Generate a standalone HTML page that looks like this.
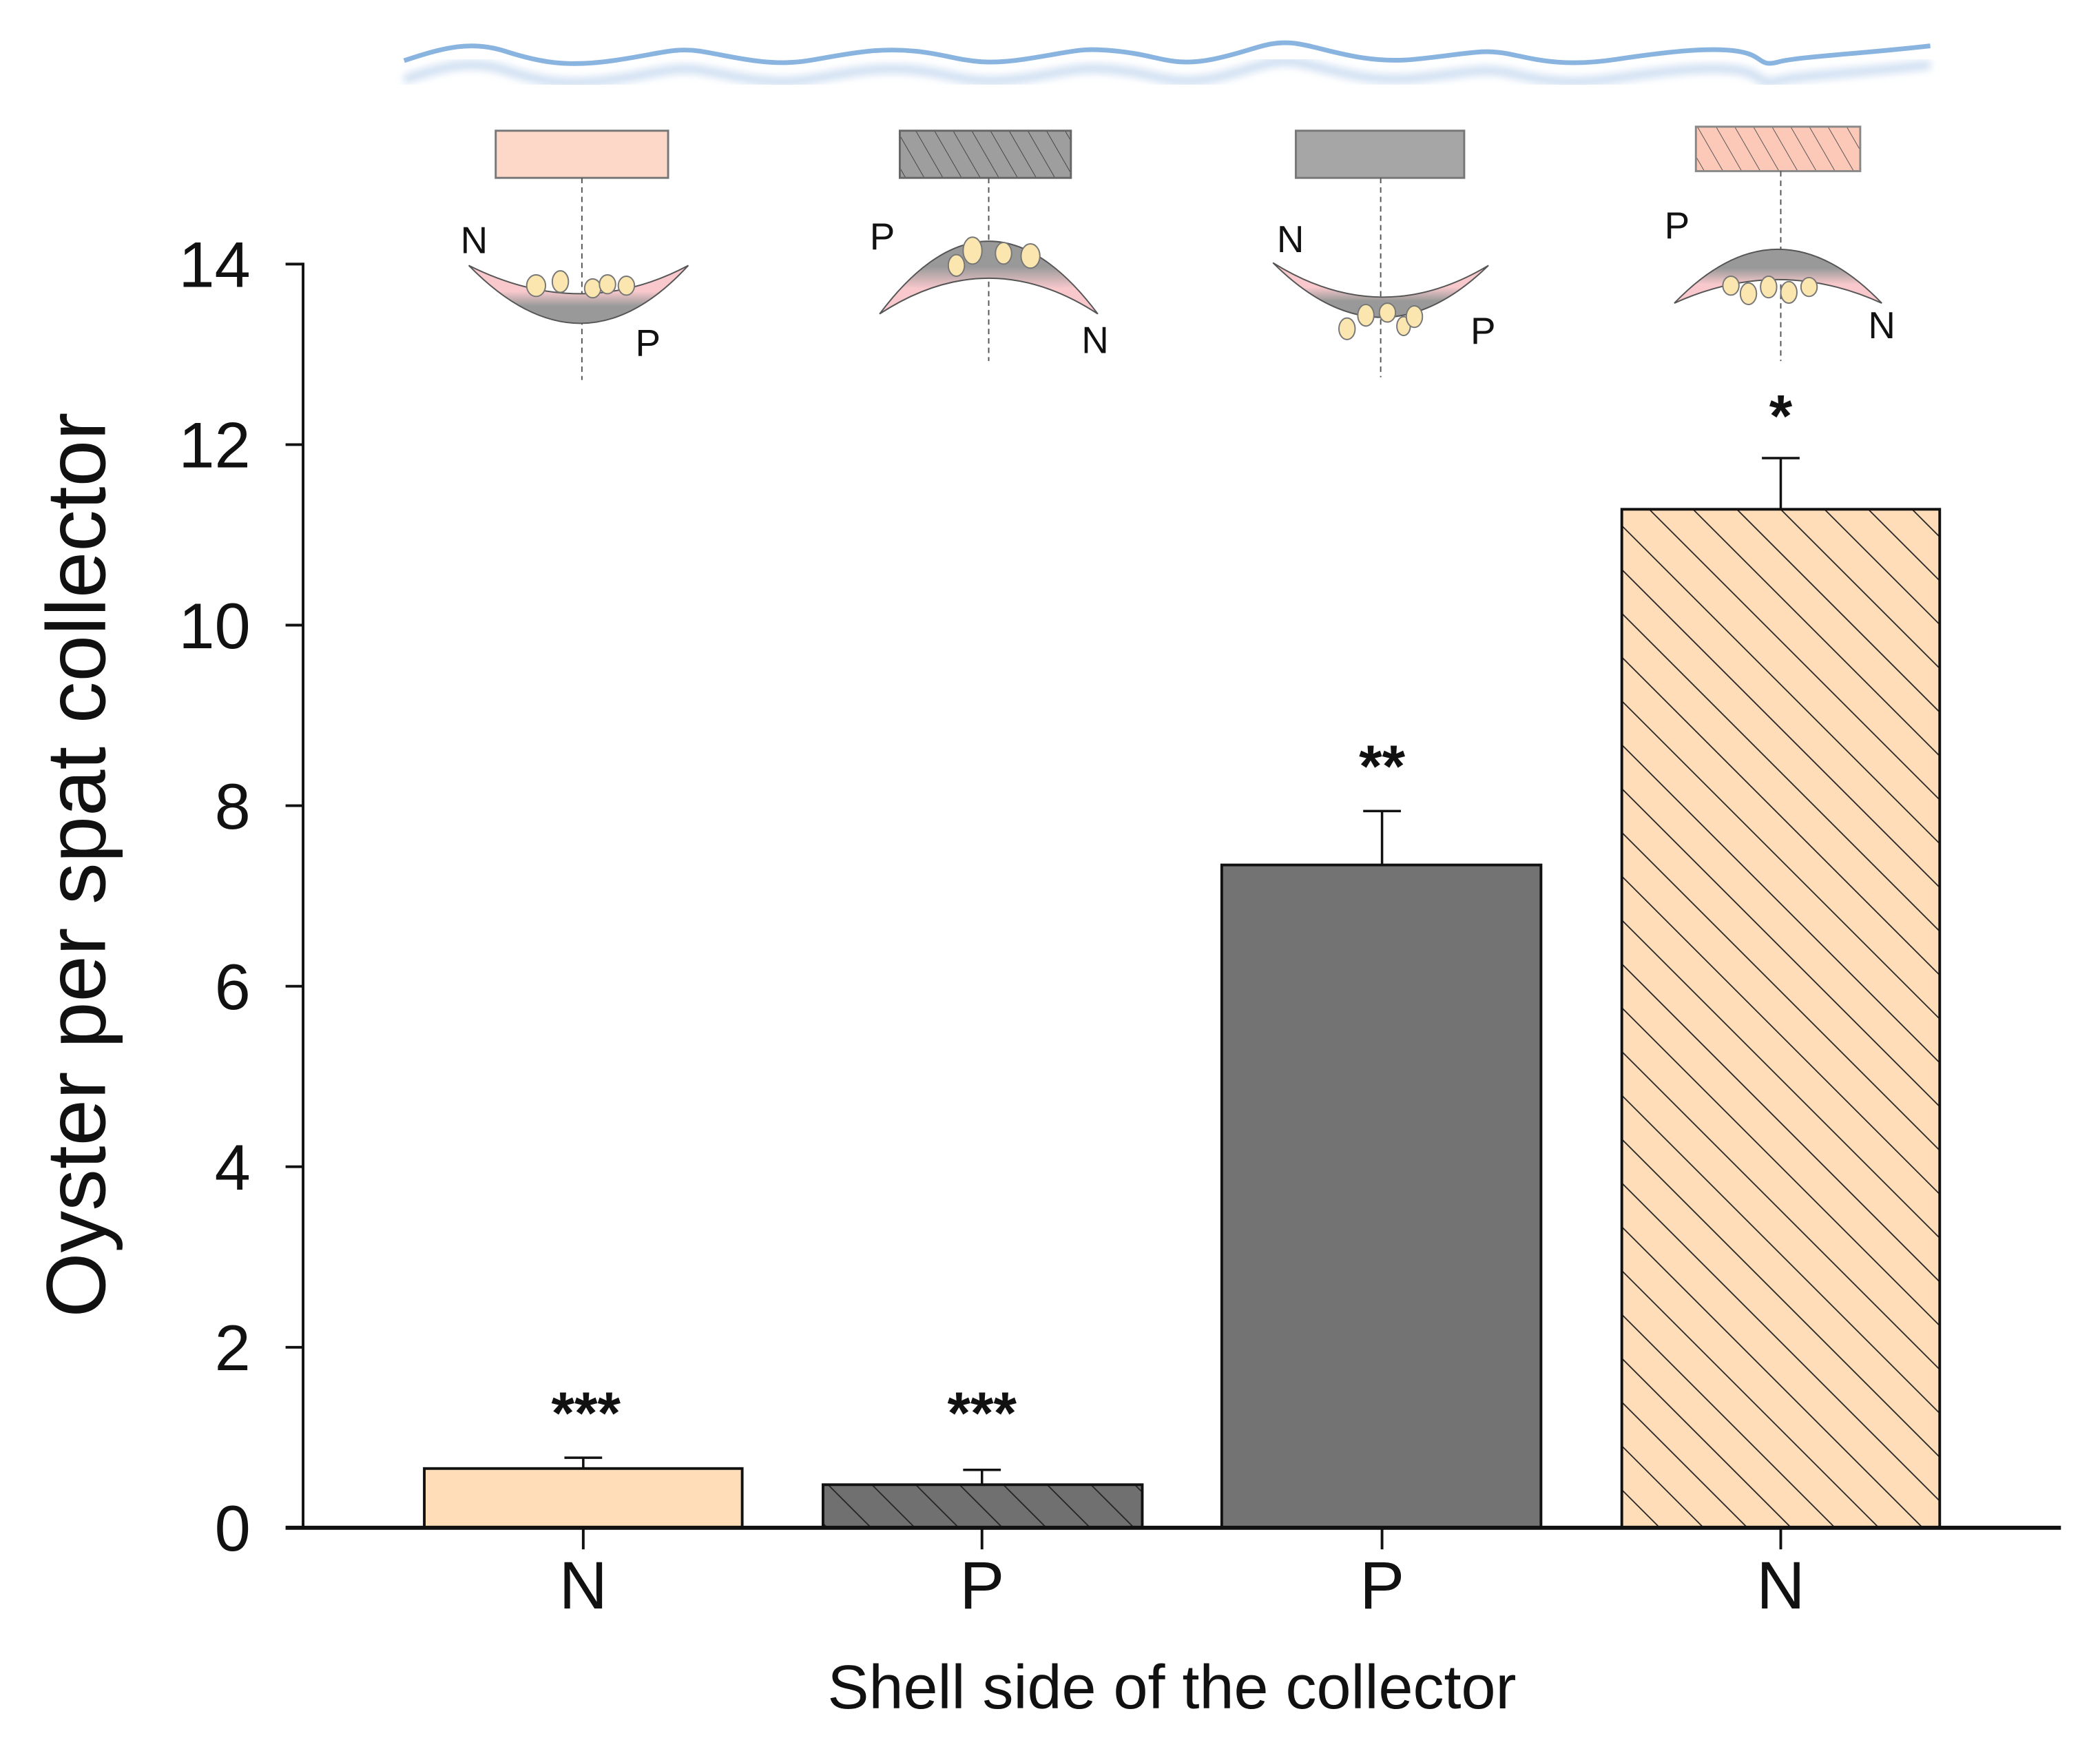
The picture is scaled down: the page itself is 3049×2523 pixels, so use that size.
<!DOCTYPE html>
<html><head><meta charset="utf-8"><style>html,body{margin:0;padding:0;background:#fff}svg{display:block}</style></head>
<body>
<svg xmlns="http://www.w3.org/2000/svg" width="3049" height="2523" viewBox="0 0 1559 1290" font-family="Liberation Sans, Arial, sans-serif">
<defs>
<pattern id="h1" patternUnits="userSpaceOnUse" width="23" height="23" patternTransform="rotate(-45)">
<rect width="23" height="23" fill="#FFDDB8"/><line x1="0" y1="0" x2="0" y2="23" stroke="#222" stroke-width="1.8"/></pattern>
<pattern id="h2" patternUnits="userSpaceOnUse" width="23" height="23" patternTransform="rotate(-45)">
<rect width="23" height="23" fill="#707070"/><line x1="0" y1="0" x2="0" y2="23" stroke="#222" stroke-width="1.8"/></pattern>
<pattern id="h3" patternUnits="userSpaceOnUse" width="12" height="12" patternTransform="rotate(-30)">
<rect width="12" height="12" fill="#9E9E9E"/><line x1="0" y1="0" x2="0" y2="12" stroke="#444" stroke-width="1"/></pattern>
<pattern id="h4" patternUnits="userSpaceOnUse" width="12" height="12" patternTransform="rotate(-30)">
<rect width="12" height="12" fill="#FCC8B8"/><line x1="0" y1="0" x2="0" y2="12" stroke="#555" stroke-width="1"/></pattern>
<linearGradient id="gUp" x1="0" y1="0" x2="0" y2="1"><stop offset="0.45" stop-color="#F8C8CC"/><stop offset="0.7" stop-color="#999"/></linearGradient>
<linearGradient id="gDn" x1="0" y1="0" x2="0" y2="1"><stop offset="0.35" stop-color="#999"/><stop offset="0.65" stop-color="#F8C8CC"/></linearGradient>
<filter id="bl"><feGaussianBlur stdDeviation="3"/></filter>
</defs>
<path id="w" d="M300,45 C330,35 350,30 375,38 S420,50 455,45 S500,35 520,38 S570,50 600,45 S650,35 680,38 S720,50 760,44 S800,35 830,38 S870,50 900,44 S940,30 960,32 S1010,48 1050,44 S1100,36 1120,40 S1160,50 1200,44 S1270,35 1290,38 S1305,50 1320,46 S1380,40 1433,34" fill="none" stroke="#C8DAF0" stroke-width="6" filter="url(#bl)" transform="translate(0,14)"/>
<path d="M300,45 C330,35 350,30 375,38 S420,50 455,45 S500,35 520,38 S570,50 600,45 S650,35 680,38 S720,50 760,44 S800,35 830,38 S870,50 900,44 S940,30 960,32 S1010,48 1050,44 S1100,36 1120,40 S1160,50 1200,44 S1270,35 1290,38 S1305,50 1320,46 S1380,40 1433,34" fill="none" stroke="#8AB4E0" stroke-width="3.5"/>
<rect x="368" y="97" width="128" height="35" fill="#FDD8C8" stroke="#777" stroke-width="1.5"/>
<rect x="668" y="97" width="127" height="35" fill="url(#h3)" stroke="#666" stroke-width="1.5"/>
<rect x="962" y="97" width="125" height="35" fill="#A6A6A6" stroke="#777" stroke-width="1.5"/>
<rect x="1259" y="94" width="122" height="33" fill="url(#h4)" stroke="#888" stroke-width="1.5"/>
<g stroke="#555" stroke-width="1" stroke-dasharray="4,3">
<line x1="432" y1="132" x2="432" y2="282"/><line x1="734" y1="132" x2="734" y2="268"/>
<line x1="1025" y1="132" x2="1025" y2="280"/><line x1="1322" y1="127" x2="1322" y2="268"/>
</g>
<path d="M348,197 Q432,283 511,197 Q432,239 348,197 Z" fill="url(#gUp)" stroke="#555" stroke-width="1"/>
<path d="M653,233 Q734,125 815,233 Q734,180 653,233 Z" fill="url(#gDn)" stroke="#555" stroke-width="1"/>
<path d="M945,195 Q1025,275 1105,197 Q1025,245 945,195 Z" fill="url(#gUp)" stroke="#555" stroke-width="1"/>
<path d="M1243,225 Q1320,145 1397,225 Q1320,190 1243,225 Z" fill="url(#gDn)" stroke="#555" stroke-width="1"/>
<g fill="#FBE6B0" stroke="#777" stroke-width="1">
<ellipse cx="398" cy="212" rx="7" ry="8"/><ellipse cx="416" cy="209" rx="6" ry="8"/><ellipse cx="440" cy="214" rx="6" ry="7"/><ellipse cx="451" cy="211" rx="6" ry="7"/><ellipse cx="465" cy="212" rx="6" ry="7"/>
<ellipse cx="710" cy="197" rx="6" ry="8"/><ellipse cx="722" cy="186" rx="7" ry="10"/><ellipse cx="745" cy="188" rx="6" ry="8"/><ellipse cx="765" cy="190" rx="7" ry="9"/>
<ellipse cx="1000" cy="244" rx="6" ry="8"/><ellipse cx="1014" cy="234" rx="6" ry="8"/><ellipse cx="1030" cy="232" rx="6" ry="7"/><ellipse cx="1042" cy="242" rx="5" ry="7"/><ellipse cx="1050" cy="235" rx="6" ry="8"/>
<ellipse cx="1285" cy="212" rx="6" ry="7"/><ellipse cx="1298" cy="218" rx="6" ry="8"/><ellipse cx="1313" cy="213" rx="6" ry="8"/><ellipse cx="1328" cy="217" rx="6" ry="8"/><ellipse cx="1343" cy="213" rx="6" ry="7"/>
</g>
<g font-size="28" fill="#111" text-anchor="middle">
<text x="352" y="188">N</text><text x="481" y="264">P</text>
<text x="655" y="185">P</text><text x="813" y="262">N</text>
<text x="958" y="187">N</text><text x="1101" y="255">P</text>
<text x="1245" y="177">P</text><text x="1397" y="251">N</text>
</g>
<line x1="225" y1="195" x2="225" y2="1134" stroke="#111" stroke-width="2"/>
<g stroke="#111" stroke-width="2">
<line x1="212" y1="196" x2="225" y2="196"/><line x1="212" y1="330" x2="225" y2="330"/><line x1="212" y1="464" x2="225" y2="464"/><line x1="212" y1="598" x2="225" y2="598"/><line x1="212" y1="732" x2="225" y2="732"/><line x1="212" y1="866" x2="225" y2="866"/><line x1="212" y1="1000" x2="225" y2="1000"/>
<line x1="433" y1="1134" x2="433" y2="1150"/><line x1="729" y1="1134" x2="729" y2="1150"/><line x1="1026" y1="1134" x2="1026" y2="1150"/><line x1="1322" y1="1134" x2="1322" y2="1150"/>
</g>
<g font-size="48" fill="#111" text-anchor="end">
<text x="186" y="213">14</text><text x="186" y="347">12</text><text x="186" y="481">10</text><text x="186" y="615">8</text><text x="186" y="749">6</text><text x="186" y="883">4</text><text x="186" y="1017">2</text><text x="186" y="1151">0</text>
</g>
<g stroke="#111" stroke-width="1.8">
<line x1="433" y1="1090" x2="433" y2="1082"/><line x1="419" y1="1082" x2="447" y2="1082"/>
<line x1="729" y1="1102" x2="729" y2="1091"/><line x1="715" y1="1091" x2="743" y2="1091"/>
<line x1="1026" y1="642" x2="1026" y2="602"/><line x1="1012" y1="602" x2="1040" y2="602"/>
<line x1="1322" y1="378" x2="1322" y2="340"/><line x1="1308" y1="340" x2="1336" y2="340"/>
</g>
<rect x="315" y="1090" width="236" height="44" fill="#FFDDB8" stroke="#111" stroke-width="2"/>
<rect x="611" y="1102" width="237" height="32" fill="url(#h2)" stroke="#111" stroke-width="2"/>
<rect x="907" y="642" width="237" height="492" fill="#737373" stroke="#111" stroke-width="2"/>
<rect x="1204" y="378" width="236" height="756" fill="url(#h1)" stroke="#111" stroke-width="2"/>
<line x1="212" y1="1134" x2="1530" y2="1134" stroke="#111" stroke-width="3"/>
<g font-size="44" font-weight="bold" fill="#111" text-anchor="middle">
<text x="435" y="1064">***</text><text x="729" y="1064">***</text><text x="1026" y="584">**</text><text x="1322" y="324">*</text>
</g>
<g font-size="50" fill="#111" text-anchor="middle">
<text x="433" y="1194">N</text><text x="729" y="1194">P</text><text x="1026" y="1194">P</text><text x="1322" y="1194">N</text>
</g>
<text x="870" y="1268" font-size="46" fill="#111" text-anchor="middle">Shell side of the collector</text>
<text transform="translate(78,642) rotate(-90)" font-size="62" fill="#111" text-anchor="middle">Oyster per spat collector</text>
</svg>
</body></html>
